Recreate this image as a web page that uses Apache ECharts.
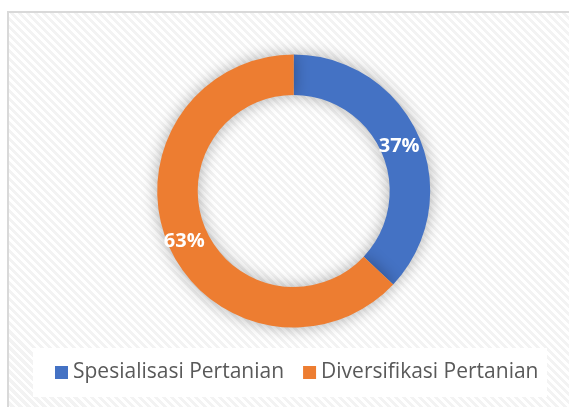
<!DOCTYPE html>
<html>
<head>
<meta charset="utf-8">
<script src="https://cdn.jsdelivr.net/npm/echarts@6/dist/echarts.min.js"></script>
<style>
  html, body { margin: 0; padding: 0; background: #fff; overflow: hidden; width: 569px; height: 407px; }
  #bg {
    position: absolute; left: 7px; top: 11px; width: 562px; height: 396px;
    border-top: 2px solid #d9d9d9; border-left: 2px solid #d9d9d9;
    background: repeating-linear-gradient(45deg, #ffffff 0px, #ffffff 2.8px, #f3f3f3 2.8px, #f3f3f3 5.66px);
  }
  #chart { position: absolute; left: 0; top: 0; width: 569px; height: 407px; }
</style>
</head>
<body>
<div id="bg"></div>
<div id="chart"></div>
<script>
const categories = ['Spesialisasi Pertanian', 'Diversifikasi Pertanian'];
const values = [37, 63];
const colors = ['#4472C4', '#ED7D31'];

const chart = echarts.init(document.getElementById('chart'), null, { renderer: 'canvas' });
chart.setOption({
  backgroundColor: 'transparent',
  animation: false,
  graphic: [{
    type: 'rect', z: -10,
    shape: { x: 33, y: 348, width: 514, height: 49 },
    style: { fill: '#ffffff' }
  }],
  legend: {
    left: 55, top: 362,
    padding: 0,
    itemWidth: 13, itemHeight: 13, itemGap: 19,
    icon: 'rect',
    textStyle: { fontFamily: 'Open Sans', fontSize: 21, color: '#595959', lineHeight: 20, padding: [0, 0, 0, 0] },
    data: categories
  },
  series: [{
    type: 'pie',
    center: [293.7, 191],
    radius: [96, 136.5],
    startAngle: 90,
    clockwise: true,
    avoidLabelOverlap: false,
    itemStyle: { shadowBlur: 16, shadowColor: 'rgba(0,0,0,0.32)' },
    label: {
      show: true, position: 'inside',
      formatter: '{d}%',
      fontFamily: 'Open Sans', fontWeight: 'bold', fontSize: 20, color: '#ffffff'
    },
    labelLine: { show: false },
    emphasis: { disabled: true },
    data: categories.map((c, i) => ({
      name: c, value: values[i], itemStyle: { color: colors[i] },
      label: { offset: i === 0 ? [-4, 3] : [0, 3] }
    }))
  }]
});
</script>
</body>
</html>
